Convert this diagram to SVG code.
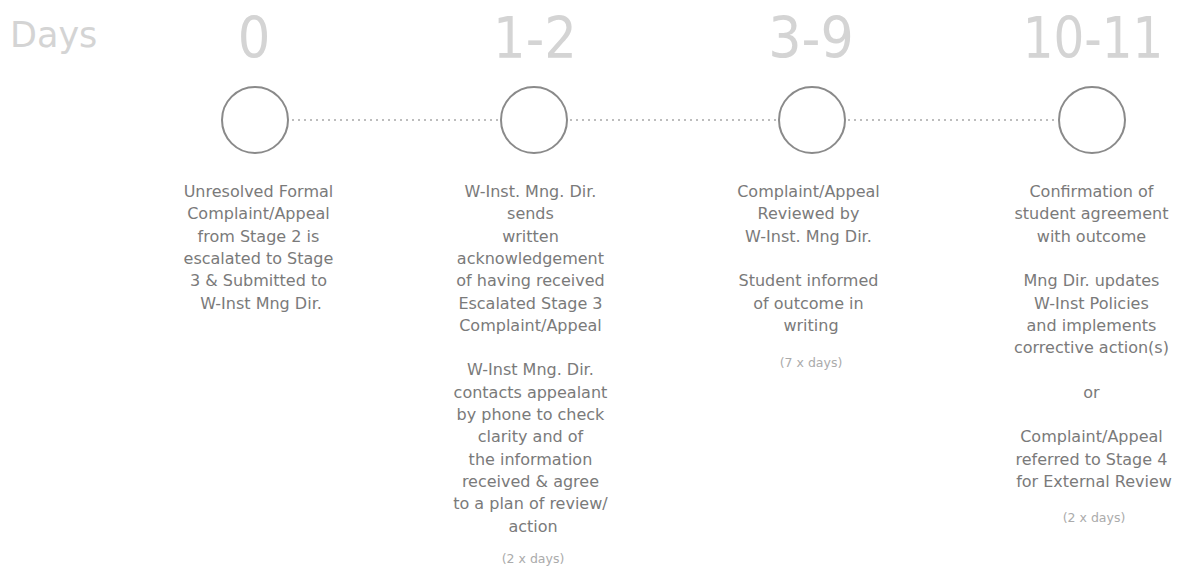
<svg xmlns="http://www.w3.org/2000/svg" width="1179" height="575" viewBox="0 0 1179 575">
  <style>
    .big { font-family: "DejaVu Sans", Verdana, sans-serif; font-size: 57px; fill: #d4d4d4; text-anchor: middle; }
    .days { font-family: "DejaVu Sans", Verdana, sans-serif; fill: #d4d4d4; font-size: 35px; }
    .node circle { fill: #ffffff; stroke: #8a8a8a; stroke-width: 2; }
    .desc { font-family: "DejaVu Sans", Verdana, sans-serif; font-size: 16px; fill: #7a7a7a; text-anchor: middle; }
    .note { font-family: "DejaVu Sans", Verdana, sans-serif; font-size: 12.5px; fill: #ababab; text-anchor: middle; }
    .link { stroke: #bdbdbd; stroke-width: 2; stroke-dasharray: 2 4; fill: none; }
  </style>

  <!-- column heading -->
  <text class="days" x="10" y="47">Days</text>

  <!-- dotted timeline between the milestones -->
  <g id="connectors">
    <line class="link" x1="292" y1="120" x2="500" y2="120"/>
    <line class="link" x1="570" y1="120" x2="777" y2="120"/>
    <line class="link" x1="848" y1="120" x2="1058" y2="120"/>
  </g>

  <!-- Day 0 -->
  <g id="day-0" class="node">
    <text class="big" transform="translate(254 58) scale(0.9 1)">0</text>
    <circle cx="255" cy="120" r="33"/>
    <text class="desc">
      <tspan x="261" y="197">Unresolved Formal</tspan>
      <tspan x="261" y="219.3">Complaint/Appeal</tspan>
      <tspan x="261" y="241.6">from Stage 2 is</tspan>
      <tspan x="261" y="263.9">escalated to Stage</tspan>
      <tspan x="261" y="286.2">3 &amp; Submitted to</tspan>
      <tspan x="261" y="308.5">W-Inst Mng Dir.</tspan>
    </text>
  </g>

  <!-- Days 1-2 -->
  <g id="day-1-2" class="node">
    <text class="big" transform="translate(535 58) scale(0.9 1)">1-2</text>
    <circle cx="534" cy="120" r="33"/>
    <text class="desc">
      <tspan x="533" y="197">W-Inst. Mng. Dir.</tspan>
      <tspan x="533" y="219.3">sends</tspan>
      <tspan x="533" y="241.6">written</tspan>
      <tspan x="533" y="263.9">acknowledgement</tspan>
      <tspan x="533" y="286.2">of having received</tspan>
      <tspan x="533" y="308.5">Escalated Stage 3</tspan>
      <tspan x="533" y="330.8">Complaint/Appeal</tspan>
      <tspan x="533" y="375.4">W-Inst Mng. Dir.</tspan>
      <tspan x="533" y="397.7">contacts appealant</tspan>
      <tspan x="533" y="420">by phone to check</tspan>
      <tspan x="533" y="442.3">clarity and of</tspan>
      <tspan x="533" y="464.6">the information</tspan>
      <tspan x="533" y="486.9">received &amp; agree</tspan>
      <tspan x="533" y="509.2">to a plan of review/</tspan>
      <tspan x="533" y="531.5">action</tspan>
    </text>
    <text class="note" x="533" y="563">(2 x days)</text>
  </g>

  <!-- Days 3-9 -->
  <g id="day-3-9" class="node">
    <text class="big" transform="translate(811 58) scale(0.92 1)">3-9</text>
    <circle cx="812" cy="120" r="33"/>
    <text class="desc">
      <tspan x="811" y="197">Complaint/Appeal</tspan>
      <tspan x="811" y="219.3">Reviewed by</tspan>
      <tspan x="811" y="241.6">W-Inst. Mng Dir.</tspan>
      <tspan x="811" y="286.2">Student informed</tspan>
      <tspan x="811" y="308.5">of outcome in</tspan>
      <tspan x="811" y="330.8">writing</tspan>
    </text>
    <text class="note" x="811" y="367">(7 x days)</text>
  </g>

  <!-- Days 10-11 -->
  <g id="day-10-11" class="node">
    <text class="big" transform="translate(1093 58) scale(0.85 1)">10-11</text>
    <circle cx="1092" cy="120" r="33"/>
    <text class="desc">
      <tspan x="1094" y="197">Confirmation of</tspan>
      <tspan x="1094" y="219.3">student agreement</tspan>
      <tspan x="1094" y="241.6">with outcome</tspan>
      <tspan x="1094" y="286.2">Mng Dir. updates</tspan>
      <tspan x="1094" y="308.5">W-Inst Policies</tspan>
      <tspan x="1094" y="330.8">and implements</tspan>
      <tspan x="1094" y="353.1">corrective action(s)</tspan>
      <tspan x="1094" y="397.7">or</tspan>
      <tspan x="1094" y="442.3">Complaint/Appeal</tspan>
      <tspan x="1094" y="464.6">referred to Stage 4</tspan>
      <tspan x="1094" y="486.9">for External Review</tspan>
    </text>
    <text class="note" x="1094" y="522">(2 x days)</text>
  </g>
</svg>
